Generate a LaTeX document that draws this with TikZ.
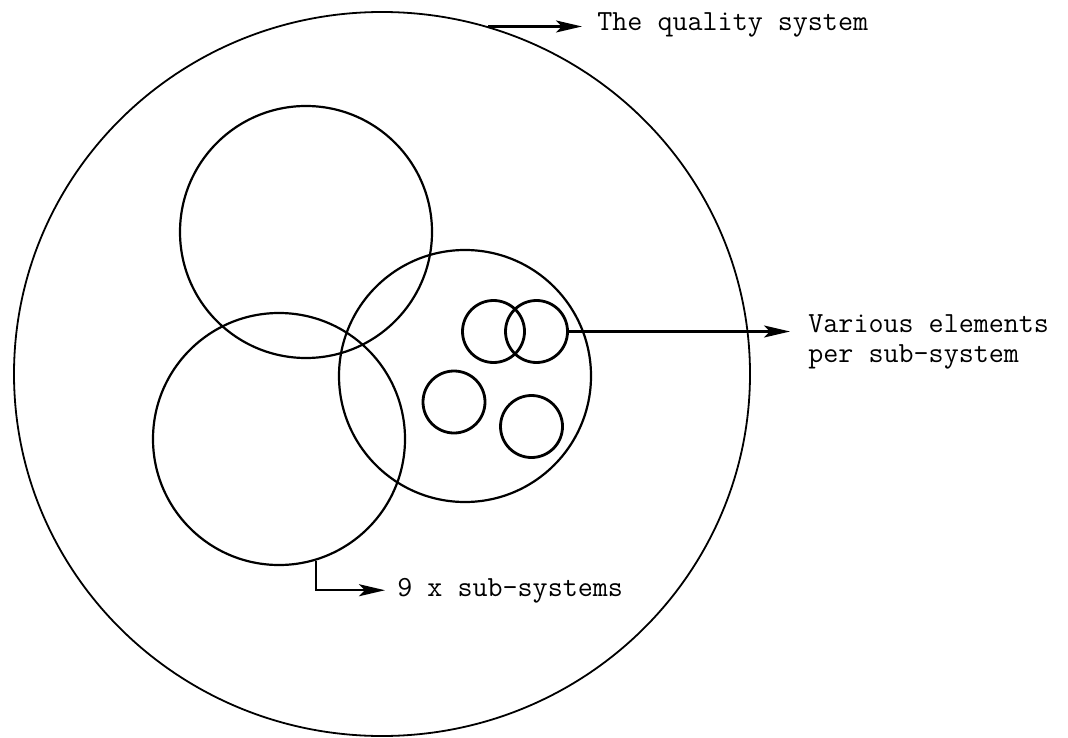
\documentclass[tikz,border=0pt]{standalone}
\usepackage{fontspec}
\usepackage{tikz}
\usetikzlibrary{shapes,arrows.meta,positioning}

\begin{document}
\begin{tikzpicture}[
    x=0.5pt, y=-0.5pt,
    system/.style={ellipse, draw, line width=0.9pt, inner sep=0pt,
      minimum width=368pt, minimum height=362pt},
    subsys/.style={circle, draw, line width=1.1pt, inner sep=0pt, minimum size=126pt},
    element/.style={circle, draw, line width=1.4pt, inner sep=0pt, minimum size=31pt},
    label/.style={font=\ttfamily\fontsize{14.6}{15}\selectfont, inner ysep=0pt, align=left},
    arrow/.style={-{Stealth[length=13pt,width=6pt,inset=3pt]}, line width=1.1pt}
  ]
    \useasboundingbox (0,0) rectangle (1068,737);

    % the whole system
    \node[system] (quality) at (382,374) {};

    % sub-systems
    \node[subsys] (subA) at (306,232) {};
    \node[subsys] (subB) at (279,439) {};
    \node[subsys] (subC) at (465,376) {};

    % elements inside one sub-system
    \node[element] (elemA) at (493.5,331.5) {};
    \node[element] (elemB) at (536.5,331.5) {};
    \node[element] (elemC) at (454,402) {};
    \node[element] (elemD) at (531.5,426.5) {};

    % labels (base anchor sits on the last line)
    \node[label, anchor=base west, inner xsep=7.5pt] (qlabel) at (582,31) {The quality system};
    \node[label, anchor=base west, inner xsep=9pt] (elabel) at (790,362) {Various elements\\per sub-system};
    \node[label, anchor=base west, inner xsep=6pt] (slabel) at (385,596) {9 x sub-systems};

    \draw[arrow] (quality.73) -- (quality.73 -| qlabel.west);
    \draw[arrow] (elemB.east) -- (elemB.east -| elabel.west);
    \draw[arrow] (subB.-73) |- (slabel.west);
  \end{tikzpicture}
\end{document}
